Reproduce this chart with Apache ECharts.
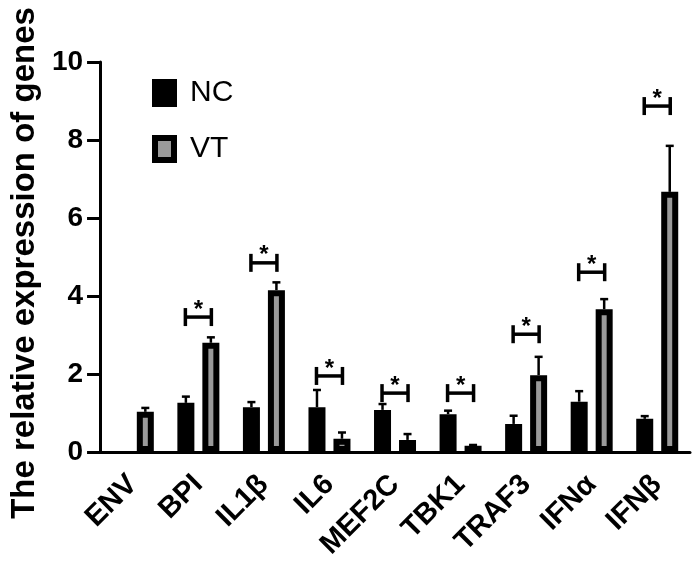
<!DOCTYPE html>
<html>
<head>
<meta charset="utf-8">
<script src="https://cdn.jsdelivr.net/npm/echarts@6/dist/echarts.min.js"></script>
<style>html,body{margin:0;padding:0;background:#fff}#c{width:699px;height:571px}</style>
</head>
<body>
<div id="c"></div>
<script>
const categories = ['ENV', 'BPI', 'IL1β', 'IL6', 'MEF2C', 'TBK1', 'TRAF3', 'IFNα', 'IFNβ'];
const ncMean = [null, 1.26, 1.15, 1.15, 1.08, 0.97, 0.72, 1.29, 0.85];
const ncErr  = [null, 0.16, 0.13, 0.44, 0.15, 0.09, 0.21, 0.27, 0.07];
const vtMean = [1.03, 2.80, 4.15, 0.34, 0.31, 0.16, 1.97, 3.66, 6.67];
const vtErr  = [0.10, 0.14, 0.20, 0.16, 0.15, 0.02, 0.47, 0.26, 1.18];
const sigLevel = [null, 3.46, 4.85, 1.95, 1.51, 1.51, 3.02, 4.61, 8.87];
const sigLabel = [null, '*', '*', '*', '*', '*', '*', '*', '*'];
const yTicks = [0, 2, 4, 6, 8, 10];

const FONT = '"Liberation Sans", Arial, Helvetica, sans-serif';
const BAR_OFFSET = 12.5;

function errData(mean, err) {
  const out = [];
  mean.forEach((m, i) => { if (m != null && err[i] != null) out.push([i, m, err[i]]); });
  return out;
}
function errRender(offset) {
  return function (params, api) {
    const i = api.value(0), m = api.value(1), e = api.value(2);
    const base = api.coord([i, m]);
    const top = api.coord([i, m + e]);
    const x = base[0] + offset;
    const st = { stroke: '#000', lineWidth: 2.5 };
    return {
      type: 'group',
      children: [
        { type: 'line', shape: { x1: x, y1: base[1], x2: x, y2: top[1] }, style: st },
        { type: 'line', shape: { x1: x - 4, y1: top[1], x2: x + 4, y2: top[1] }, style: st }
      ]
    };
  };
}
const sigData = [];
sigLevel.forEach((v, i) => { if (v != null) sigData.push([i, v, sigLabel[i]]); });

const chart = echarts.init(document.getElementById('c'), null, { renderer: 'canvas' });
chart.setOption({
  animation: false,
  backgroundColor: '#fff',
  grid: { left: 98, right: 9, top: 62, bottom: 119, containLabel: false },
  legend: {
    orient: 'vertical',
    left: 147, top: 73,
    itemWidth: 19, itemHeight: 22, itemGap: 26,
    textStyle: { fontFamily: FONT, fontSize: 30, color: '#000', padding: [0, 0, 0, 11] },
    data: [
      { name: 'NC', icon: 'rect', itemStyle: { color: '#000', borderColor: '#000', borderWidth: 6 } },
      { name: 'VT', icon: 'rect', itemStyle: { color: '#9a9a9a', borderColor: '#000', borderWidth: 6 } }
    ]
  },
  xAxis: {
    type: 'category',
    data: categories,
    axisLine: { lineStyle: { color: '#000', width: 3 } },
    axisTick: { alignWithLabel: true, length: 14, lineStyle: { color: '#000', width: 3 } },
    axisLabel: { rotate: 45, margin: 28, color: '#000', fontFamily: FONT, fontWeight: 'bold', fontSize: 29, interval: 0 },
    z: 5
  },
  yAxis: {
    type: 'value',
    min: yTicks[0], max: yTicks[yTicks.length - 1], interval: 2,
    name: 'The relative expression of genes',
    nameLocation: 'middle', nameGap: 56,
    nameTextStyle: { fontFamily: FONT, fontWeight: 'bold', fontSize: 33, color: '#000', padding: [0, 12, 0, 0] },
    axisLine: { show: true, lineStyle: { color: '#000', width: 3 } },
    axisTick: { show: true, length: 13, lineStyle: { color: '#000', width: 3 } },
    axisLabel: { margin: 17, color: '#000', fontFamily: FONT, fontWeight: 'bold', fontSize: 28 },
    splitLine: { show: false },
    z: 5
  },
  series: [
    { name: 'NC', type: 'bar', data: ncMean, barWidth: 17, barGap: '47%',
      itemStyle: { color: '#000', borderColor: '#000', borderWidth: 6 } },
    { name: 'VT', type: 'bar', data: vtMean, barWidth: 17, barGap: '47%',
      itemStyle: { color: '#9a9a9a', borderColor: '#000', borderWidth: 6 } },
    { name: 'errNC', type: 'custom', data: errData(ncMean, ncErr), renderItem: errRender(-BAR_OFFSET), z: 1 },
    { name: 'errVT', type: 'custom', data: errData(vtMean, vtErr), renderItem: errRender(BAR_OFFSET), z: 1 },
    { name: 'sig', type: 'custom', data: sigData, z: 3,
      renderItem: function (params, api) {
        const p = api.coord([api.value(0), api.value(1)]);
        const x = p[0], y = p[1];
        const st = { stroke: '#000', lineWidth: 3.5 };
        return {
          type: 'group',
          children: [
            { type: 'line', shape: { x1: x - 13, y1: y, x2: x + 13, y2: y }, style: st },
            { type: 'line', shape: { x1: x - 13, y1: y - 9, x2: x - 13, y2: y + 9 }, style: st },
            { type: 'line', shape: { x1: x + 13, y1: y - 9, x2: x + 13, y2: y + 9 }, style: st },
            { type: 'text', style: { text: sigData[params.dataIndex][2], x: x, y: y - 7, align: 'center', verticalAlign: 'middle',
              font: 'bold 24px ' + FONT, fill: '#000' } }
          ]
        };
      }
    }
  ]
});
</script>
</body>
</html>
